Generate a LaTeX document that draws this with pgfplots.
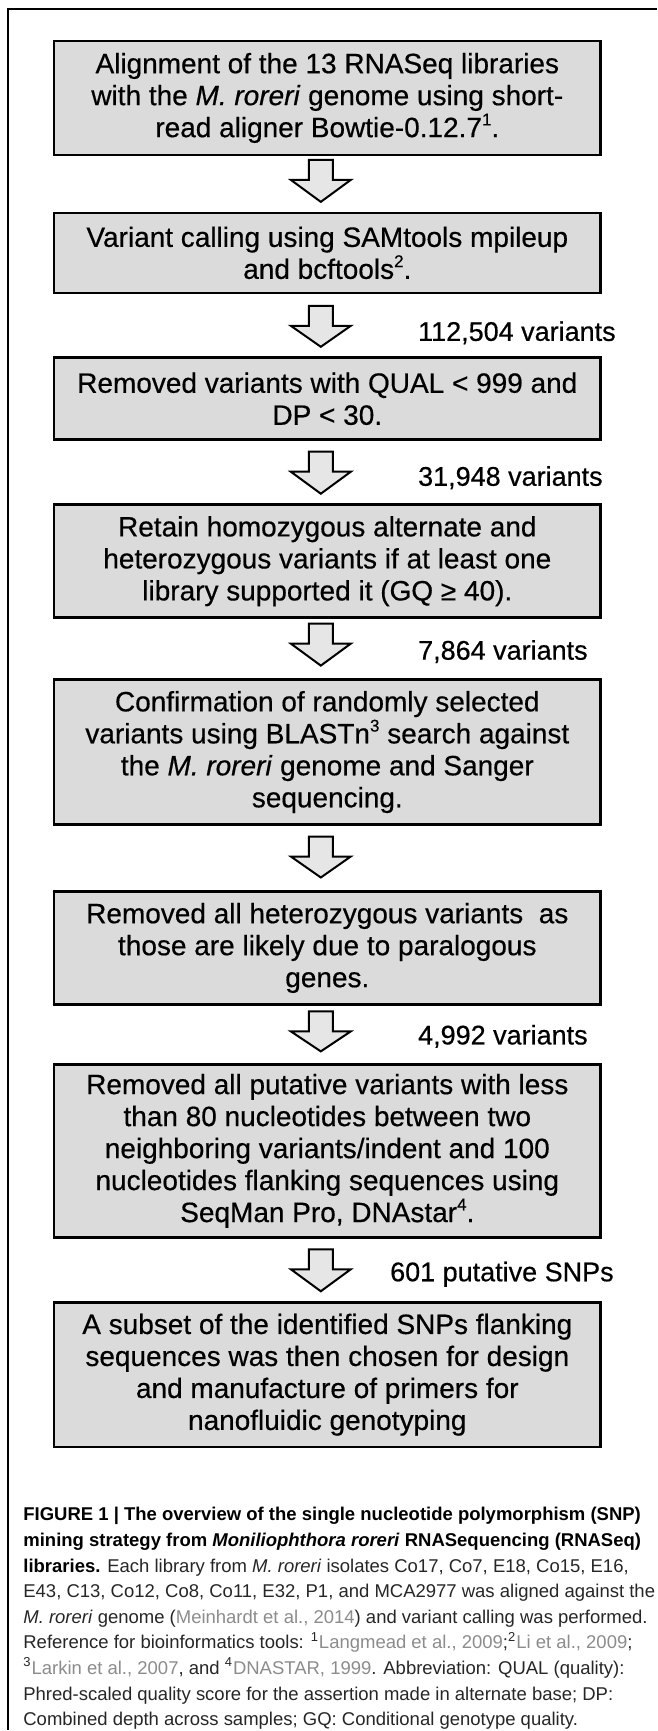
\documentclass[border=0pt]{standalone}
\usepackage{pgfplots}
\pgfplotsset{compat=1.18}
\usepackage{fontspec}
\setmainfont{Liberation Sans}
\newfontfamily\boxfamily{Liberation Sans}[FakeBold=0.5]
\definecolor{boxfill}{HTML}{DBDBDB}
\definecolor{arrowfill}{HTML}{E6E6E6}
\definecolor{citegray}{HTML}{8C8C8C}
\newcommand{\boxfont}{\boxfamily\fontsize{14pt}{16pt}\selectfont}
\newcommand{\labfont}{\boxfamily\fontsize{13.5pt}{16pt}\selectfont}
\newcommand{\capfont}{\fontsize{9.25pt}{12.8pt}\selectfont}
\newcommand{\bsup}[1]{\raisebox{0.42em}{\fontsize{8.5pt}{9pt}\selectfont #1}}
\begin{document}
\begin{tikzpicture}
\begin{axis}[
  width=328.5pt, height=865.5pt, scale only axis,
  xmin=0, xmax=657, ymin=0, ymax=1731, y dir=reverse,
  hide axis, clip=false,
  boxst/.style={fill=boxfill, draw=black, line width=1.3pt, line join=miter, mark=none},
  arrst/.style={fill=arrowfill, draw=black, line width=1pt, line join=miter, mark=none},
]
% background
\addplot[fill=white, draw=none, mark=none] coordinates {(0,0) (657,0) (657,1731) (0,1731)} -- cycle;
% frame (left and top)
\addplot[black, line width=1pt, mark=none] coordinates {(8,1731) (8,9) (657,9)};

% boxes
\addplot[boxst] coordinates {(54,41) (601,41) (601,155) (54,155)} -- cycle;
\addplot[boxst] coordinates {(54,213) (601,213) (601,293) (54,293)} -- cycle;
\addplot[boxst] coordinates {(54,358) (601,358) (601,440) (54,440)} -- cycle;
\addplot[boxst] coordinates {(54,505) (601,505) (601,618) (54,618)} -- cycle;
\addplot[boxst] coordinates {(54,680) (601,680) (601,825) (54,825)} -- cycle;
\addplot[boxst] coordinates {(54,892) (601,892) (601,1005) (54,1005)} -- cycle;
\addplot[boxst] coordinates {(54,1065) (601,1065) (601,1238) (54,1238)} -- cycle;
\addplot[boxst] coordinates {(54,1303) (601,1303) (601,1448) (54,1448)} -- cycle;

% arrows
\addplot[arrst] coordinates {(309,160) (333,160) (333,180) (351,180) (321,202) (291,180) (309,180)} -- cycle;
\addplot[arrst] coordinates {(309,306) (333,306) (333,326) (351,326) (321,347) (291,326) (309,326)} -- cycle;
\addplot[arrst] coordinates {(309,452) (333,452) (333,472) (351,472) (321,494) (291,472) (309,472)} -- cycle;
\addplot[arrst] coordinates {(309,624) (333,624) (333,644) (351,644) (321,666) (291,644) (309,644)} -- cycle;
\addplot[arrst] coordinates {(309,837) (333,837) (333,857) (351,857) (321,878) (291,857) (309,857)} -- cycle;
\addplot[arrst] coordinates {(309,1012) (333,1012) (333,1032) (351,1032) (321,1052) (291,1032) (309,1032)} -- cycle;
\addplot[arrst] coordinates {(309,1250) (333,1250) (333,1270) (351,1270) (321,1292) (291,1270) (309,1270)} -- cycle;

% box texts
\node[font=\boxfont, align=center, inner sep=0pt] at (axis cs:327.5,98)
 {Alignment of the 13 RNASeq libraries\\ with the \textit{M. roreri} genome using short-\\ read aligner Bowtie-0.12.7\bsup{1}.};
\node[font=\boxfont, align=center, inner sep=0pt] at (axis cs:327.5,253)
 {Variant calling using SAMtools mpileup\\ and bcftools\bsup{2}.};
\node[font=\boxfont, align=center, inner sep=0pt] at (axis cs:327.5,399)
 {Removed variants with QUAL < 999 and\\ DP < 30.};
\node[font=\boxfont, align=center, inner sep=0pt] at (axis cs:327.5,561.5)
 {Retain homozygous alternate and\\ heterozygous variants if at least one\\ library supported it (GQ ≥ 40).};
\node[font=\boxfont, align=center, inner sep=0pt] at (axis cs:327.5,752.5)
 {Confirmation of randomly selected\\ variants using BLASTn\bsup{3} search against\\ the \textit{M. roreri} genome and Sanger\\ sequencing.};
\node[font=\boxfont, align=center, inner sep=0pt] at (axis cs:327.5,948.5)
 {Removed all heterozygous variants \ as\\ those are likely due to paralogous\\ genes.};
\node[font=\boxfont, align=center, inner sep=0pt] at (axis cs:327.5,1151.5)
 {Removed all putative variants with less\\ than 80 nucleotides between two\\ neighboring variants/indent and 100\\ nucleotides flanking sequences using\\ SeqMan Pro, DNAstar\bsup{4}.};
\node[font=\boxfont, align=center, inner sep=0pt] at (axis cs:327.5,1375.5)
 {A subset of the identified SNPs flanking\\ sequences was then chosen for design\\ and manufacture of primers for\\ nanofluidic genotyping};

% counts
\node[font=\labfont, anchor=west, inner sep=0pt] at (axis cs:418,333) {112,504 variants};
\node[font=\labfont, anchor=west, inner sep=0pt] at (axis cs:418,478) {31,948 variants};
\node[font=\labfont, anchor=west, inner sep=0pt] at (axis cs:418,652) {7,864 variants};
\node[font=\labfont, anchor=west, inner sep=0pt] at (axis cs:418,1037) {4,992 variants};
\node[font=\labfont, anchor=west, inner sep=0pt] at (axis cs:390,1275) {601 putative SNPs};

% caption
\node[font=\capfont, align=left, anchor=north west, inner sep=0pt, text=black!85] at (axis cs:23,1508)
 {\textcolor{black}{\textbf{FIGURE 1 | The overview of the single nucleotide polymorphism (SNP)}}\\
  \textcolor{black}{\textbf{mining strategy from \textit{Moniliophthora roreri} RNASequencing (RNASeq)}}\\
  \textcolor{black}{\textbf{libraries.}} Each library from \textit{M. roreri} isolates Co17, Co7, E18, Co15, E16,\\
  E43, C13, Co12, Co8, Co11, E32, P1, and MCA2977 was aligned against the\\
  \textit{M. roreri} genome ({\color{citegray}Meinhardt et al., 2014}) and variant calling was performed.\\
  Reference for bioinformatics tools: \textsuperscript{1}{\color{citegray}Langmead et al., 2009};\textsuperscript{2}{\color{citegray}Li et al., 2009};\\
  \textsuperscript{3}{\color{citegray}Larkin et al., 2007}, and \textsuperscript{4}{\color{citegray}DNASTAR, 1999}. Abbreviation: QUAL (quality):\\
  Phred-scaled quality score for the assertion made in alternate base; DP:\\
  Combined depth across samples; GQ: Conditional genotype quality.};
\end{axis}
\end{tikzpicture}
\end{document}
